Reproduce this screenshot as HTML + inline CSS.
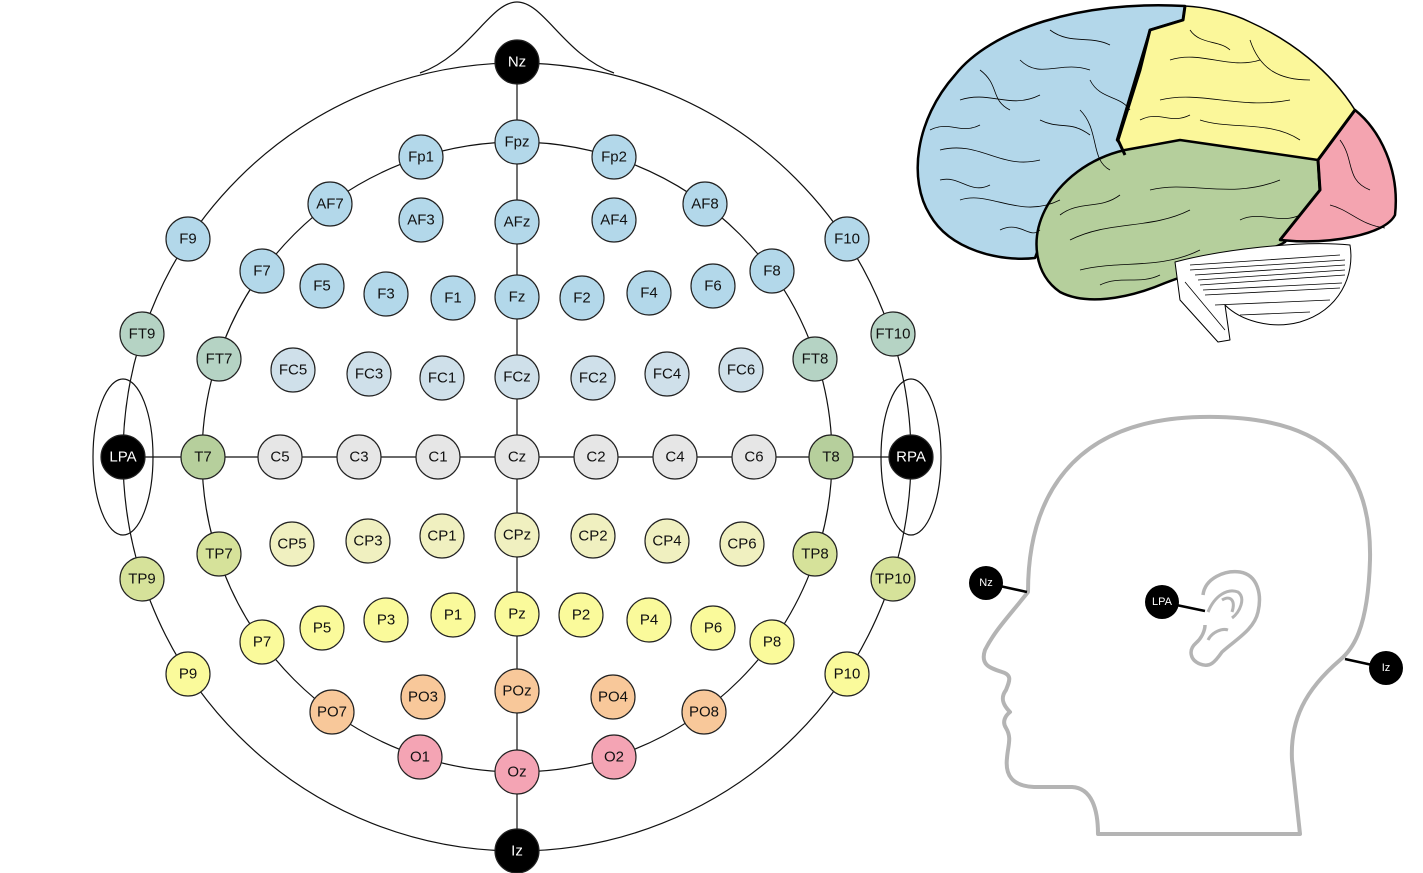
<!DOCTYPE html>
<html><head><meta charset="utf-8"><style>
html,body{margin:0;padding:0;background:#fff;width:1423px;height:873px;overflow:hidden}
text{font-family:"Liberation Sans",sans-serif;font-size:15px;text-anchor:middle;dominant-baseline:central}
</style></head><body>
<svg width="1423" height="873" viewBox="0 0 1423 873" xmlns="http://www.w3.org/2000/svg">
<g fill="none" stroke="#111" stroke-width="1.2">
<path d="M420,73 C470,55 490,2 517,2 C544,2 564,55 614,73"/>
<circle cx="517" cy="457" r="394"/>
<circle cx="517" cy="457" r="315"/>
<ellipse cx="123" cy="457" rx="30" ry="78"/>
<ellipse cx="911" cy="457" rx="30" ry="78"/>
<line x1="517" y1="62" x2="517" y2="851"/>
<line x1="123" y1="457" x2="911" y2="457"/>
</g>
<g id="nodes" stroke="#222" stroke-width="1.2"></g>

<!-- brain -->
<g stroke="#000" stroke-width="2.5" stroke-linejoin="round">
<path fill="#b3d7ea" d="M1185,6 C1080,0 990,30 955,75 C915,120 908,180 930,215 C950,250 1000,262 1035,258 L1060,190 L1125,150 L1117,140 L1135,80 L1150,30 L1183,20 Z"/>
<path fill="#fbf79a" stroke-width="1.5" d="M1185,6 L1183,20 L1150,30 L1140,70 L1118,140 L1125,155 L1180,140 L1318,160 L1355,110 C1330,70 1290,40 1250,22 C1230,12 1205,7 1185,6 Z"/>
<path fill="#b5cf9c" d="M1125,150 C1090,158 1060,180 1045,210 C1030,240 1035,275 1060,292 C1085,305 1125,300 1165,283 C1220,262 1270,252 1285,242 L1320,195 L1318,160 L1180,140 Z"/>
<path fill="#f4a4b0" d="M1355,110 C1380,130 1400,170 1395,215 C1385,235 1330,245 1280,240 L1320,190 L1318,160 Z"/>
<path fill="#fff" stroke-width="1" d="M1175,262 C1220,250 1300,240 1350,245 C1355,275 1340,310 1300,322 C1270,330 1240,320 1225,305 L1230,340 L1218,342 L1180,300 Z"/>
<path fill="none" stroke-width="3" d="M1185,6 L1183,20 L1150,30 L1140,70 L1118,140 L1125,155 M1318,160 L1320,190 L1280,240 M1355,110 L1318,160"/>
</g>
<g stroke="#000" stroke-width="0.8" fill="none">
<path d="M1190,265 L1340,255 M1195,275 L1345,265 M1200,285 L1345,275 M1205,295 L1340,288 M1215,305 L1330,300 M1240,315 L1310,312 M1185,282 L1225,330 M1190,270 L1345,260 M1198,280 L1345,270 M1203,290 L1342,283"/>
<path d="M960,100 C990,90 1010,110 1040,95 M940,150 C980,140 1000,170 1040,160 M960,200 C990,190 1020,220 1060,200 M1020,60 C1040,80 1060,60 1090,70 M1080,110 C1100,130 1090,160 1110,170 M1000,230 C1020,220 1030,240 1040,230 M930,130 C950,120 960,135 980,125 M1050,30 C1070,45 1090,35 1110,45 M1090,80 C1100,100 1120,95 1130,110 M980,70 C1000,85 990,100 1010,110 M940,180 C960,175 970,195 990,185 M1040,120 C1060,130 1070,120 1090,135"/>
<path d="M1170,60 C1200,50 1230,70 1260,60 M1160,100 C1200,90 1240,110 1290,100 M1200,120 C1230,130 1270,120 1300,140 M1250,40 C1260,70 1280,80 1310,80 M1190,30 C1200,45 1220,40 1230,50 M1140,120 C1160,110 1170,125 1190,115"/>
<path d="M1070,240 C1110,220 1150,230 1190,210 M1080,270 C1120,260 1160,270 1200,250 M1150,190 C1190,180 1230,200 1280,180 M1240,220 C1260,210 1280,225 1300,215 M1060,215 C1080,200 1100,210 1120,195 M1100,285 C1120,275 1140,285 1160,275"/>
<path d="M1340,140 C1355,160 1345,180 1370,190 M1330,205 C1350,210 1360,225 1385,228"/>
</g>

<!-- head -->
<g fill="none" stroke="#b4b4b4" stroke-width="4" stroke-linejoin="round">
<path d="M1028,592 C1028,500 1070,420 1200,417 C1330,414 1372,470 1370,560 C1368,630 1352,650 1340,660 C1305,690 1290,720 1292,760 L1300,834 L1098,834 C1098,810 1092,788 1072,787 L1034,787 C1012,786 1005,775 1007,758 C1008,745 1012,738 1006,728 C1002,722 1005,716 1010,712 C1003,705 1000,698 1006,690 C1010,680 1012,675 1002,672 C990,668 980,665 985,650 C995,630 1010,615 1028,592 Z"/>
<path d="M1203,595 C1205,578 1225,570 1240,572 C1258,575 1262,595 1258,612 C1254,630 1235,640 1222,652 C1215,662 1210,668 1200,664 C1190,660 1188,650 1196,643 C1202,638 1205,630 1205,625" stroke-width="3.5"/>
<path d="M1208,612 C1215,595 1228,588 1238,592 C1246,598 1240,612 1232,618 M1222,600 C1230,595 1236,600 1232,612 M1208,640 C1212,632 1222,628 1228,630" stroke-width="3"/>
</g>
<g stroke="#000" stroke-width="2.5">
<line x1="986" y1="583" x2="1027" y2="592"/>
<line x1="1162" y1="602" x2="1205" y2="611"/>
<line x1="1386" y1="668" x2="1345" y2="659"/>
</g>
<g fill="#000"><circle cx="986" cy="583" r="17"/><circle cx="1162" cy="602" r="17"/><circle cx="1386" cy="668" r="17"/></g>
<g fill="#fff"><text x="986" y="583" style="font-size:11px">Nz</text><text x="1162" y="602" style="font-size:11px">LPA</text><text x="1386" y="668" style="font-size:11px">Iz</text></g>
</svg>
<script>
const C={k:"#000",b:"#b3d8ea",fc:"#cfe0ea",ft:"#b5d3c4",t:"#b6cf9c",c:"#e6e6e6",cp:"#f0f0c0",tp:"#d6e29a",p:"#fafa9b",po:"#f8c89a",o:"#f4a4b4"};
const N=[["Nz",517,62,"k"],["Fpz",517,142,"b"],["Fp1",421,157,"b"],["Fp2",614,157,"b"],["AF7",330,204,"b"],["AF3",421,220,"b"],["AFz",517,222,"b"],["AF4",614,220,"b"],["AF8",705,204,"b"],["F9",188,239,"b"],["F10",847,239,"b"],["F7",262,271,"b"],["F5",322,286,"b"],["F3",386,294,"b"],["F1",453,298,"b"],["Fz",517,297,"b"],["F2",582,298,"b"],["F4",649,293,"b"],["F6",713,286,"b"],["F8",772,271,"b"],["FT9",142,334,"ft"],["FT10",893,334,"ft"],["FT7",219,359,"ft"],["FC5",293,370,"fc"],["FC3",369,374,"fc"],["FC1",442,378,"fc"],["FCz",517,377,"fc"],["FC2",593,378,"fc"],["FC4",667,374,"fc"],["FC6",741,370,"fc"],["FT8",815,359,"ft"],["LPA",123,457,"k"],["T7",203,457,"t"],["C5",280,457,"c"],["C3",359,457,"c"],["C1",438,457,"c"],["Cz",517,457,"c"],["C2",596,457,"c"],["C4",675,457,"c"],["C6",754,457,"c"],["T8",831,457,"t"],["RPA",911,457,"k"],["TP9",142,579,"tp"],["TP7",219,554,"tp"],["CP5",292,544,"cp"],["CP3",368,541,"cp"],["CP1",442,536,"cp"],["CPz",517,535,"cp"],["CP2",593,536,"cp"],["CP4",667,541,"cp"],["CP6",742,544,"cp"],["TP8",815,554,"tp"],["TP10",893,579,"tp"],["P9",188,674,"p"],["P7",262,642,"p"],["P5",322,628,"p"],["P3",386,620,"p"],["P1",453,615,"p"],["Pz",517,614,"p"],["P2",581,615,"p"],["P4",649,620,"p"],["P6",713,628,"p"],["P8",772,642,"p"],["P10",847,674,"p"],["PO7",332,712,"po"],["PO3",423,697,"po"],["POz",517,691,"po"],["PO4",613,697,"po"],["PO8",704,712,"po"],["O1",420,757,"o"],["Oz",517,772,"o"],["O2",614,757,"o"],["Iz",517,851,"k"]];
let s="";
for(const [l,x,y,c] of N){s+=`<circle cx="${x}" cy="${y}" r="22" fill="${C[c]}"/><text x="${x}" y="${y}" stroke="none" fill="${c=="k"?"#fff":"#111"}">${l}</text>`;}
document.getElementById("nodes").innerHTML=s;
</script>
</body></html>
